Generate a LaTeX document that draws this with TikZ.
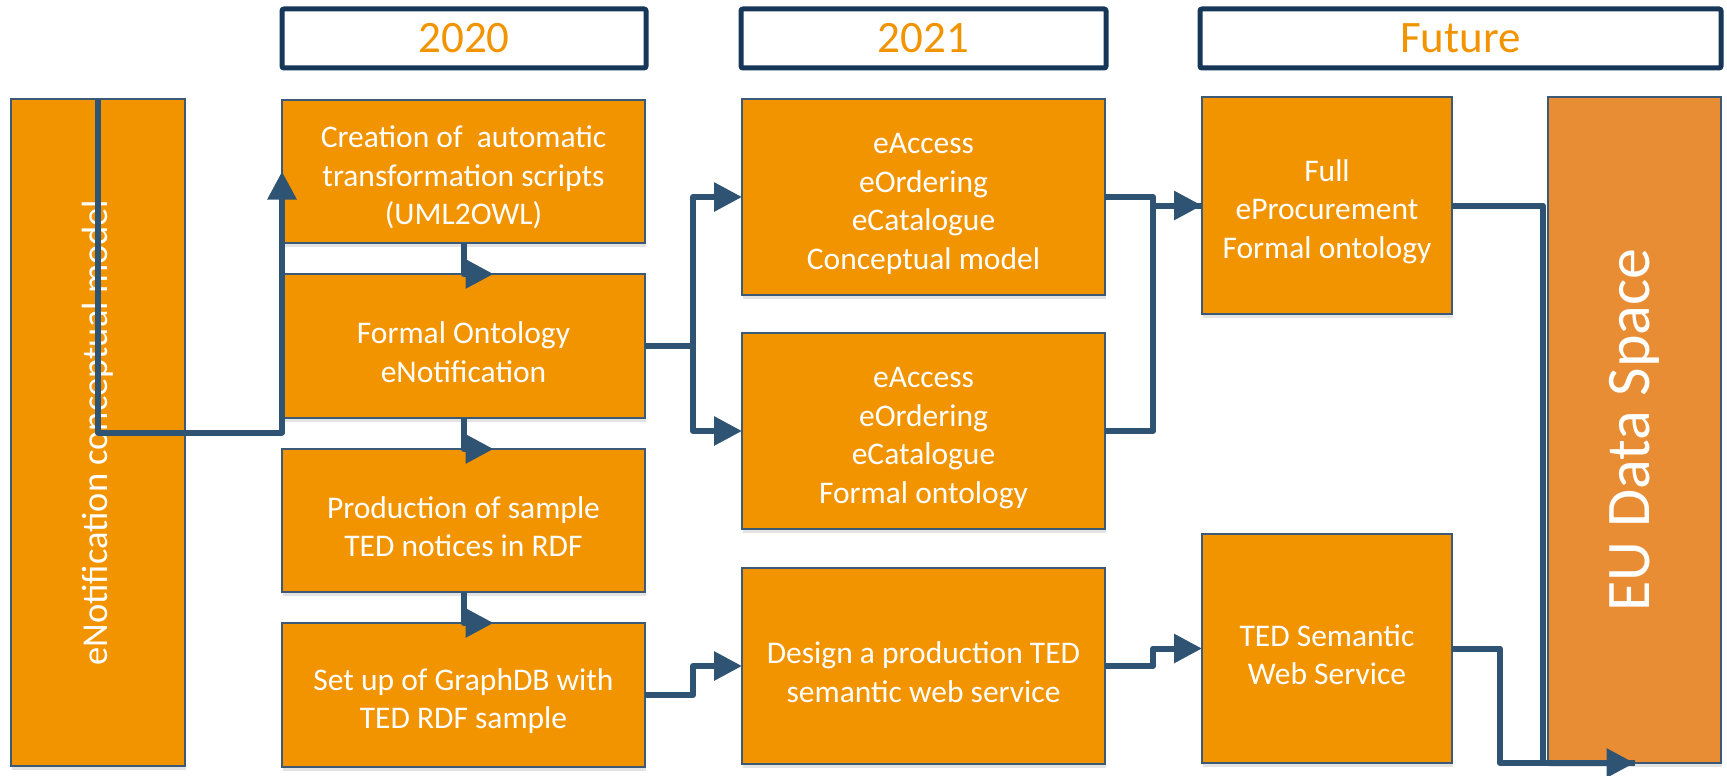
\documentclass[tikz,border=0pt]{standalone}
\usepackage{fontspec}
\setmainfont{Carlito}
\usetikzlibrary{arrows.meta,calc,shadows}
\definecolor{boxor}{HTML}{F29400}
\definecolor{euor}{HTML}{E88D34}
\definecolor{conncol}{HTML}{2F5473}
\definecolor{bordcol}{HTML}{3A5A78}
\definecolor{hdcol}{HTML}{173759}
\newcommand\toppad{\rule{0pt}{34pt}}
\tikzset{
  box/.style={draw=bordcol, line width=1.5pt, fill=boxor, text=white, inner sep=0pt, outer sep=0pt,
    align=center, font=\fontsize{31.5}{38.5}\selectfont,
    drop shadow={shadow xshift=1pt, shadow yshift=-4pt, opacity=0.22}},
  eubox/.style={draw=bordcol, line width=1.5pt, fill=euor, inner sep=0pt, outer sep=0pt,
    drop shadow={shadow xshift=1pt, shadow yshift=-4pt, opacity=0.22}},
  plainbox/.style={draw=bordcol, line width=1.5pt, fill=boxor, inner sep=0pt, outer sep=0pt,
    drop shadow={shadow xshift=1pt, shadow yshift=-4pt, opacity=0.22}},
  hdr/.style={draw=hdcol, line width=5pt, fill=white, rounded corners=2pt, text=boxor, inner sep=0pt, outer sep=0pt,
    font=\fontsize{45}{50}\selectfont},
  vtext/.style={rotate=90, text=white, inner sep=0pt},
  conn/.style={draw=conncol, line width=6pt, line join=round, -{Triangle[length=28pt,width=28pt]}},
  link/.style={draw=conncol, line width=6pt, line join=round}
}
\begin{document}
\begin{tikzpicture}[x=1pt,y=-1pt]
\useasboundingbox (0,0) rectangle (1727,776);
% headers
\node[hdr, minimum width=364, minimum height=59] (h1) at (464,38.5) {2020};
\node[hdr, minimum width=365, minimum height=59] (h2) at (923.5,38.5) {2021};
\node[hdr, minimum width=521, minimum height=59] (h3) at (1460.5,38.5) {Future};
% left
\node[plainbox, minimum width=174, minimum height=667] (ln) at (98,432.5) {};
\node[vtext, font=\fontsize{36.5}{40}\selectfont] (lnt) at (ln.center) {eNotification conceptual model};
% 2020 column
\node[box, minimum width=363, minimum height=143] (cr) at (463.5,171.5) {\toppad Creation of\ \ automatic\\transformation scripts\\(UML2OWL)};
\node[box, minimum width=363, minimum height=144] (fo) at (463.5,346) {\toppad Formal Ontology\\eNotification};
\node[box, minimum width=363, minimum height=143] (pr) at (463.5,520.5) {\toppad Production of sample\\TED notices in RDF};
\node[box, minimum width=363, minimum height=144] (su) at (463.5,695) {\toppad Set up of GraphDB with\\TED RDF sample};
% 2021 column
\node[box, minimum width=363, minimum height=196] (ea1) at (923.5,197) {\toppad eAccess\\eOrdering\\eCatalogue\\Conceptual model};
\node[box, minimum width=363, minimum height=196] (ea2) at (923.5,431) {\toppad eAccess\\eOrdering\\eCatalogue\\Formal ontology};
\node[box, minimum width=363, minimum height=196] (de) at (923.5,666) {\toppad Design a production TED\\semantic web service};
% future
\node[box, minimum width=250, minimum height=217] (fu) at (1327,205.5) {\toppad Full\\eProcurement\\Formal ontology};
\node[box, minimum width=250, minimum height=229] (te) at (1327,648.5) {\toppad TED Semantic\\Web Service};
\node[eubox, minimum width=173, minimum height=666] (eu) at (1634.5,430) {};
\node[vtext, font=\fontsize{62}{66}\selectfont] (eut) at (eu.center) {EU Data Space};
% connectors
\draw[conn] (ln.north) -- (ln.center) -| (cr.west);
\draw[conn] (cr.south) |- ($(fo.north)+(30,0)$);
\draw[conn] (fo.south) |- ($(pr.north)+(30,0)$);
\draw[conn] (pr.south) |- ($(su.north)+(30,0)$);
\draw[conn] (fo.east) -- ++(48,0) |- (ea1.west);
\draw[conn] (fo.east) -- ++(48,0) |- (ea2.west);
\draw[link] (ea1.east) -- ++(48,0) |- (fu.west);
\draw[conn] (ea2.east) -- ++(48,0) |- (fu.west);
\draw[conn] (su.east) -- ++(48,0) |- (de.west);
\draw[conn] (de.east) -- ++(48,0) |- (te.west);
\draw[link] (fu.east) -| ($(eu.south west)+(-5,0)$) -- (eu.south);
\draw[conn] (te.east) -- ++(48,0) |- (eu.south);
\end{tikzpicture}
\end{document}
